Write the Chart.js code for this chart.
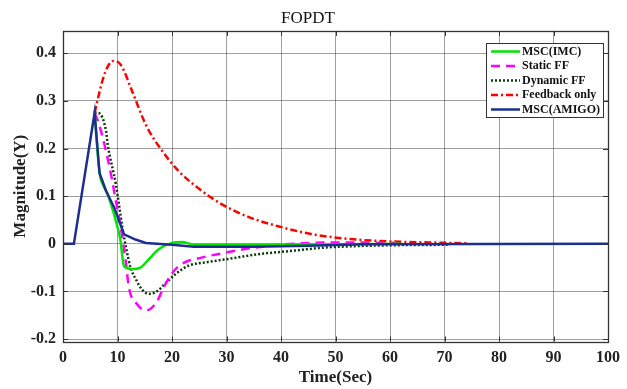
<!DOCTYPE html>
<html>
<head>
<meta charset="utf-8">
<script src="https://cdn.jsdelivr.net/npm/chart.js@4/dist/chart.umd.min.js"></script>
<style>
  html, body { margin: 0; padding: 0; background: #fff; }
  #wrap { width: 627px; height: 389px; }
</style>
</head>
<body>
<div id="wrap"><canvas id="fopdt"></canvas></div>
<script>
// values (time in s, magnitude)
// the rise from t=2 to the peak is shared by all runs and sits under MSC(AMIGO)
const imcT = [5.8, 6.7, 7.3, 8.2, 9.7, 10.5, 11.2, 12.7, 14.2, 15.7, 17.5, 20, 21.8, 24.2, 30, 40, 50, 62];
const imcY = [0.275, 0.149, 0.125, 0.104, 0.048, 0.01, -0.047, -0.053, -0.05, -0.033, -0.012, 0.002, 0.004, -0.002, -0.002, -0.002, -0.001, 0];

const staticT = [5.8, 6.4, 7.3, 8.8, 9.7, 10.6, 11.5, 12.1, 13.6, 15.2, 17.3, 18.2, 20, 21.8, 25.4, 29.6, 33.9, 39.9, 45.3, 50.8, 61];
const staticY = [0.275, 0.258, 0.223, 0.146, 0.09, 0.034, -0.036, -0.092, -0.127, -0.14, -0.12, -0.098, -0.062, -0.042, -0.029, -0.019, -0.01, -0.002, 0.002, 0.003, 0.002];

const dynT = [5.8, 6.4, 7.9, 8.2, 9.7, 10.9, 11.6, 12.4, 13.4, 14.5, 15.8, 17.3, 18.8, 20.6, 23, 26.6, 29.6, 35.7, 41.7, 47.8, 53.2, 60, 71];
const dynY = [0.275, 0.275, 0.237, 0.209, 0.125, 0.034, -0.01, -0.05, -0.075, -0.096, -0.105, -0.099, -0.083, -0.064, -0.046, -0.038, -0.033, -0.022, -0.015, -0.008, -0.005, -0.003, -0.002];

const fbT = [5.8, 6.1, 7.3, 8.2, 9.2, 10.6, 12.7, 15.2, 18.2, 21.2, 24.8, 29, 33.9, 40.1, 45.3, 50.2, 55, 60, 67, 74.3];
const fbY = [0.275, 0.29, 0.345, 0.372, 0.384, 0.376, 0.32, 0.25, 0.195, 0.153, 0.117, 0.084, 0.057, 0.035, 0.021, 0.013, 0.008, 0.005, 0.003, 0.001];

const amigoT = [0, 2, 5.8, 6.7, 7.9, 9.4, 11.2, 13.3, 15.2, 20, 24, 35, 45, 55, 100];
const amigoY = [0, 0, 0.275, 0.149, 0.111, 0.076, 0.02, 0.009, 0.002, -0.002, -0.006, -0.006, -0.004, -0.001, 0];

const xTicks = [0, 10, 20, 30, 40, 50, 60, 70, 80, 90, 100];
const yTicks = [-0.2, -0.1, 0, 0.1, 0.2, 0.3, 0.4];

function pts(t, y) {
  return t.map((v, i) => ({ x: v, y: y[i] }));
}

const serif = "'Liberation Serif', 'Times New Roman', serif";

// box round the plot with inward ticks, MATLAB style
const boxPlugin = {
  id: 'box',
  afterDatasetsDraw(chart) {
    const { ctx, chartArea: a, scales } = chart;
    ctx.save();
    ctx.strokeStyle = '#333';
    ctx.lineWidth = 1;
    ctx.beginPath();
    xTicks.forEach(v => {
      const px = Math.round(scales.x.getPixelForValue(v)) + 0.5;
      ctx.moveTo(px, a.top); ctx.lineTo(px, a.top + 5);
      ctx.moveTo(px, a.bottom); ctx.lineTo(px, a.bottom - 5);
    });
    yTicks.forEach(v => {
      const py = Math.round(scales.y.getPixelForValue(v)) + 0.5;
      ctx.moveTo(a.left, py); ctx.lineTo(a.left + 5, py);
      ctx.moveTo(a.right, py); ctx.lineTo(a.right - 5, py);
    });
    ctx.stroke();
    ctx.lineWidth = 1.3;
    ctx.strokeRect(Math.round(a.left) + 0.5, Math.round(a.top) + 0.5,
      Math.round(a.right - a.left), Math.round(a.bottom - a.top));
    ctx.restore();
  }
};

// legend drawn inside the plot, top right
const legendBox = {
  id: 'legendBox',
  afterDraw(chart) {
    const ctx = chart.ctx;
    const x0 = 486, y0 = 43, w = 117, h = 74;
    ctx.save();
    ctx.fillStyle = '#fff';
    ctx.fillRect(x0, y0, w, h);
    ctx.strokeStyle = '#333';
    ctx.lineWidth = 1;
    ctx.strokeRect(x0 + 0.5, y0 + 0.5, w, h);
    ctx.font = 'bold 12px ' + serif;
    ctx.textBaseline = 'middle';
    chart.data.datasets.forEach((ds, i) => {
      const y = y0 + 8.5 + i * 14.5;
      ctx.strokeStyle = ds.borderColor;
      ctx.lineWidth = ds.borderWidth;
      ctx.setLineDash(ds.borderDash || []);
      ctx.beginPath();
      ctx.moveTo(x0 + 5, y);
      ctx.lineTo(x0 + 34, y);
      ctx.stroke();
      ctx.setLineDash([]);
      ctx.fillStyle = '#111';
      ctx.fillText(ds.label, x0 + 36, y);
    });
    ctx.restore();
  }
};

new Chart('fopdt', {
  type: 'line',
  data: {
    datasets: [
      {
        label: 'MSC(IMC)',
        data: pts(imcT, imcY),
        borderColor: '#00e600',
        borderWidth: 2.5,
        cubicInterpolationMode: 'monotone',
        order: 1
      },
      {
        label: 'Static FF',
        data: pts(staticT, staticY),
        borderColor: '#ff00ff',
        borderWidth: 2.5,
        borderDash: [9, 6],
        cubicInterpolationMode: 'monotone',
        order: 1
      },
      {
        label: 'Dynamic FF',
        data: pts(dynT, dynY),
        borderColor: '#0b3a0b',
        borderWidth: 2.5,
        borderDash: [2, 2],
        cubicInterpolationMode: 'monotone',
        order: 1
      },
      {
        label: 'Feedback only',
        data: pts(fbT, fbY),
        borderColor: '#ff0000',
        borderWidth: 2.5,
        borderDash: [7, 3, 2, 3],
        cubicInterpolationMode: 'monotone',
        order: 1
      },
      {
        label: 'MSC(AMIGO)',
        data: pts(amigoT, amigoY),
        borderColor: '#1c2f8f',
        borderWidth: 2.5,
        tension: 0,
        order: 0
      }
    ]
  },
  options: {
    responsive: true,
    maintainAspectRatio: false,
    animation: false,
    elements: { point: { radius: 0 } },
    layout: { padding: { left: 0, right: 11, top: 0, bottom: 0 } },
    plugins: {
      legend: { display: false },
      tooltip: { enabled: false },
      title: {
        display: true,
        text: 'FOPDT',
        color: '#111',
        font: { family: serif, size: 17, weight: 'normal' },
        padding: { top: 8, bottom: 2.5 }
      }
    },
    scales: {
      x: {
        type: 'linear',
        min: 0,
        max: 100,
        afterBuildTicks: s => { s.ticks = xTicks.map(v => ({ value: v })); },
        afterFit: s => { s.height = 47.5; },
        grid: { color: 'rgba(0,0,0,0.38)', drawTicks: false },
        border: { display: false },
        ticks: {
          padding: 7,
          maxRotation: 0,
          color: '#222',
          font: { family: serif, size: 16, weight: 'bold' }
        },
        title: {
          display: true,
          text: 'Time(Sec)',
          color: '#222',
          font: { family: serif, size: 17, weight: 'bold' },
          padding: { top: 0, bottom: 1 }
        }
      },
      y: {
        min: -0.205,
        max: 0.447,
        afterBuildTicks: s => { s.ticks = yTicks.map(v => ({ value: v })); },
        afterFit: s => { s.width = 63; },
        grid: { color: 'rgba(0,0,0,0.38)', drawTicks: false },
        border: { display: false },
        ticks: {
          padding: 7,
          color: '#222',
          font: { family: serif, size: 16, weight: 'bold' },
          callback: v => String(Math.round(v * 10) / 10)
        },
        title: {
          display: true,
          text: 'Magnitude(Y)',
          color: '#222',
          font: { family: serif, size: 17, weight: 'bold' },
          padding: { top: 10, bottom: 0 }
        }
      }
    }
  },
  plugins: [boxPlugin, legendBox]
});
</script>
</body>
</html>
